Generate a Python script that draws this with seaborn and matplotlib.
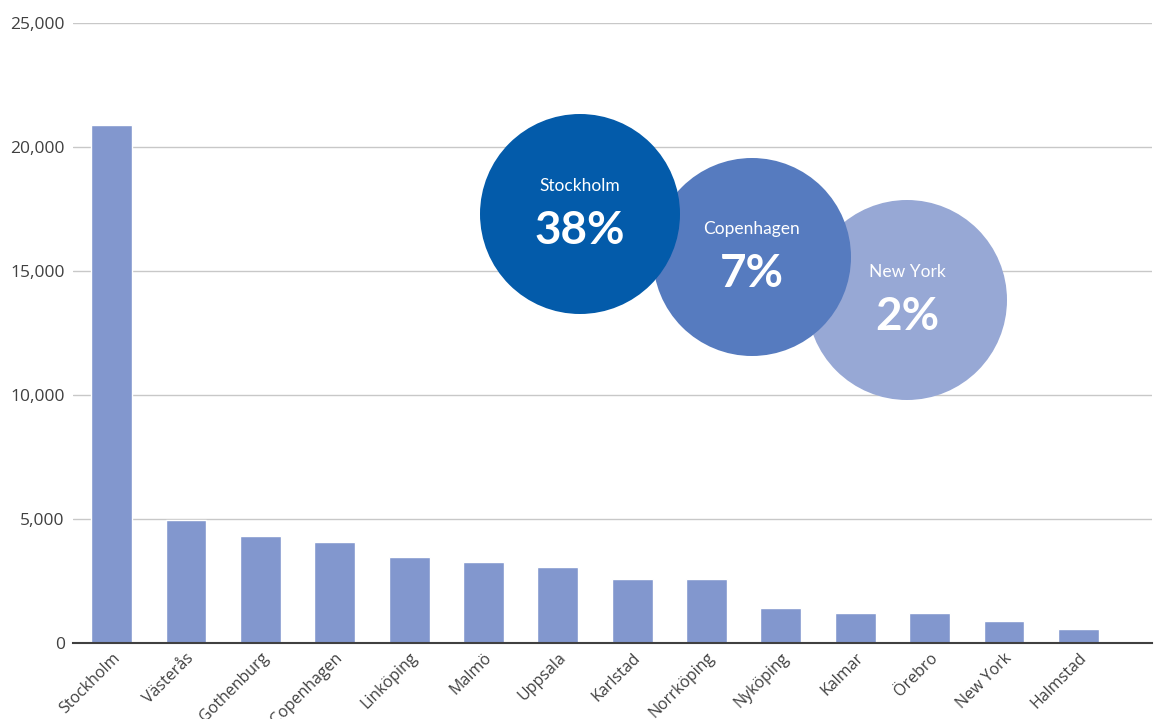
import matplotlib
matplotlib.use("Agg")
import matplotlib.pyplot as plt
from matplotlib.patches import Circle
from matplotlib.ticker import FuncFormatter
import seaborn as sns
import pandas as pd

cities = ["Stockholm", "Västerås", "Gothenburg", "Copenhagen", "Linköping", "Malmö",
          "Uppsala", "Karlstad", "Norrköping", "Nyköping", "Kalmar", "Örebro",
          "New York", "Halmstad"]
values = [20880, 4950, 4300, 4060, 3460, 3260, 3050, 2570, 2570, 1400, 1200, 1200, 870, 580]

bubble_names = ["Stockholm", "Copenhagen", "New York"]
bubble_pcts = ["38%", "7%", "2%"]

sns.set_theme(style="white")
plt.rcParams['font.family'] = ['Open Sans', 'DejaVu Sans']

fig = plt.figure(figsize=(11.54, 7.19), dpi=100)
ax = fig.add_axes([73/1154, 1-643/719, (1152-73)/1154, (643-23)/719])

df = pd.DataFrame({"city": cities, "value": values})
sns.barplot(data=df, x="city", y="value", color="#8297CE", saturation=1, width=0.55, ax=ax)

ax.set_ylim(0, 25000)
ax.set_xlim(-0.52, len(cities) - 0.01)
ax.set_yticks([0, 5000, 10000, 15000, 20000, 25000])
ax.yaxis.set_major_formatter(FuncFormatter(lambda v, p: f"{int(v):,}"))
ax.grid(axis="y", color="#c8c8c8", linewidth=1)
ax.set_axisbelow(True)
for s in ["top", "right", "left"]:
    ax.spines[s].set_visible(False)
ax.spines["bottom"].set_color("#404040")
ax.spines["bottom"].set_linewidth(1.5)
ax.spines["bottom"].set_zorder(5)
ax.set_xlabel("")
ax.set_ylabel("")
ax.tick_params(axis="y", length=0, pad=6, labelsize=12.5, labelcolor="#404040")
ax.tick_params(axis="x", length=0, pad=5, labelsize=11.5, labelcolor="#404040")
for lab in ax.get_xticklabels():
    lab.set_rotation(45)
    lab.set_ha("right")
    lab.set_rotation_mode("anchor")

# bubble overlay (pixel coordinates)
ov = fig.add_axes([0, 0, 1, 1])
ov.set_xlim(0, 1154)
ov.set_ylim(719, 0)
ov.set_aspect("equal")
ov.axis("off")
ov.patch.set_alpha(0)

centers = [(580, 214), (752, 257), (907, 300)]
radii = [100, 99, 100]
colors = ["#035BAA", "#567BBF", "#97A8D5"]
zs = [3, 2, 1]
for (cx, cy), r, c, z, name, pct in zip(centers, radii, colors, zs, bubble_names, bubble_pcts):
    ov.add_patch(Circle((cx, cy), r, color=c, zorder=z, lw=0))
    ov.text(cx, cy - 28, name, ha="center", va="center", color="white", fontsize=12.5,
            family=["Lato", "DejaVu Sans"], zorder=z + 0.5)
    ov.text(cx, cy + 17, pct, ha="center", va="center", color="white", fontsize=33,
            fontweight="bold", family=["Lato", "DejaVu Sans"], zorder=z + 0.5)

fig.savefig("out.png", dpi=100)
